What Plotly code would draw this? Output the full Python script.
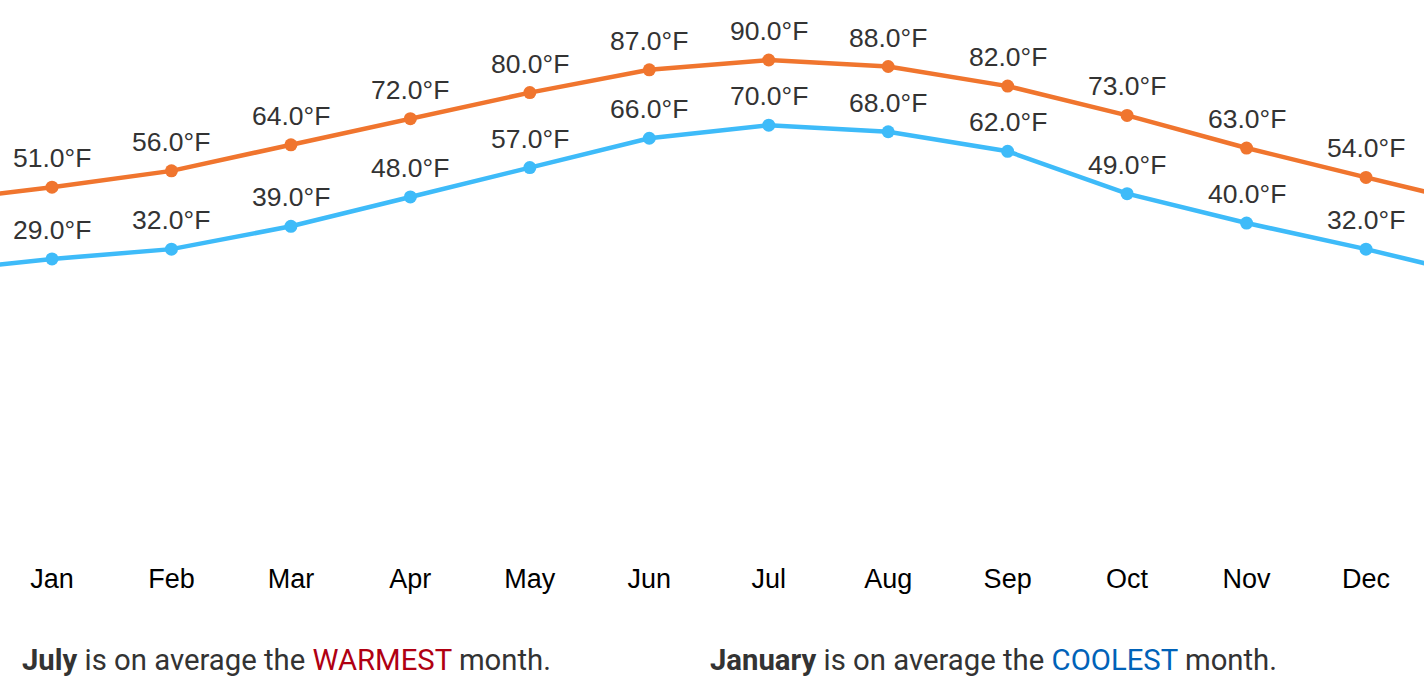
import plotly.graph_objects as go

months = ["Jan", "Feb", "Mar", "Apr", "May", "Jun", "Jul", "Aug", "Sep", "Oct", "Nov", "Dec"]
high_f = [51, 56, 64, 72, 80, 87, 90, 88, 82, 73, 63, 54]
low_f = [29, 32, 39, 48, 57, 66, 70, 68, 62, 49, 40, 32]
# values of the neighbouring (off-screen) months that the lines run toward at the edges
high_edges = [46.6, 45.2]
low_edges = [25.0, 23.2]

orange = "#F0752E"
blue = "#3EBBF9"

idx = list(range(len(months)))
x_full = [-1] + idx + [len(months)]

fig = go.Figure()
for vals, edges, col in [(high_f, high_edges, orange), (low_f, low_edges, blue)]:
    fig.add_trace(go.Scatter(
        x=x_full, y=[edges[0]] + vals + [edges[1]],
        mode="lines", line=dict(color=col, width=4.5),
        hoverinfo="skip", showlegend=False))
    fig.add_trace(go.Scatter(
        x=idx, y=vals, mode="markers",
        marker=dict(color=col, size=13),
        hoverinfo="skip", showlegend=False, cliponaxis=False))
    for i, v in zip(idx, vals):
        fig.add_annotation(x=i, y=v, text=f"{v:.1f}°F", showarrow=False,
                           xanchor="center", yanchor="middle", yshift=29,
                           font=dict(family="Liberation Sans, Arial, sans-serif", size=26.5,
                                     color="#333333"))

fig.update_xaxes(range=[-52 / 119.45, 11 + 58 / 119.45], tickvals=idx, ticktext=months,
                 showgrid=False, zeroline=False, showline=False, ticks="",
                 tickfont=dict(family="Liberation Sans, Arial, sans-serif", size=27, color="#000000"),
                 ticklabelstandoff=5)
fig.update_yaxes(range=[-61.8, 108.4], visible=False, showgrid=False, zeroline=False)

txt_font = dict(family="Roboto, sans-serif", size=29.3, color="#333333")
fig.add_annotation(xref="paper", yref="paper", x=20 / 1424, y=-(660 - 555) / 555,
                   xanchor="left", yanchor="middle", showarrow=False, font=txt_font,
                   text="<b>July</b> is on average the <span style='color:#B00012'>WARMEST</span> month.")
fig.add_annotation(xref="paper", yref="paper", x=708 / 1424, y=-(660 - 555) / 555,
                   xanchor="left", yanchor="middle", showarrow=False, font=txt_font,
                   text="<b>January</b> is on average the <span style='color:#0062B8'>COOLEST</span> month.")

fig.update_layout(width=1424, height=698, margin=dict(l=0, r=0, t=0, b=143),
                  plot_bgcolor="white", paper_bgcolor="white")
fig.write_html("out.html", config={"displayModeBar": False},
               post_script="document.body.style.margin='0px';")
